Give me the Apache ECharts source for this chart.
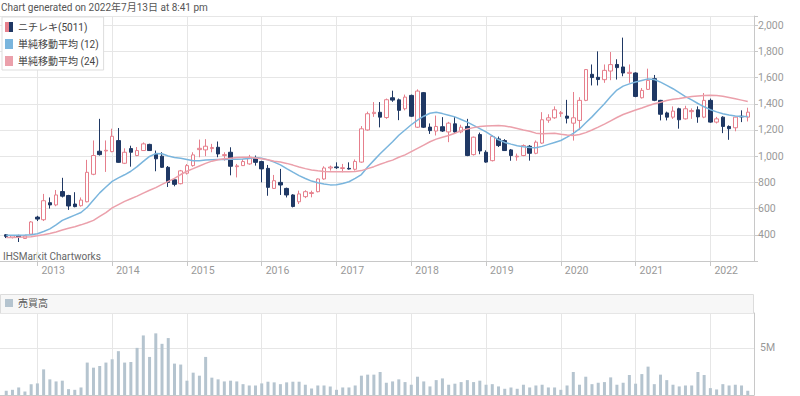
<!DOCTYPE html>
<html>
<head>
<meta charset="utf-8">
<script src="https://cdn.jsdelivr.net/npm/echarts@6/dist/echarts.min.js"></script>
<style>
  html, body { margin: 0; padding: 0; background: #fff; }
  #chart { width: 800px; height: 396px; }
</style>
</head>
<body>
<div id="chart"></div>
<script>
// monthly bars, 2012-08 .. 2022-07 (one row per year)
const opens = [
  400, 380, 395, 372, 405,
  535, 515, 645, 628, 730, 700, 635, 622, 652, 862, 1038, 1040,
  1035, 1119, 946, 1058, 1005, 1043, 1090, 1017, 1000, 915, 820, 790,
  870, 928, 1050, 1048, 1058, 1068, 1005, 1030, 920, 928, 941, 984,
  959, 907, 754, 800, 754, 704, 652, 691, 715, 729, 826, 910,
  918, 906, 907, 900, 955, 1200, 1325, 1335, 1295, 1446, 1430, 1362,
  1464, 1221, 1485, 1222, 1192, 1225, 1185, 1247, 1185, 1227, 1012, 1165,
  1030, 966, 1132, 1119, 1048, 995, 1005, 1076, 1022, 1100, 1275, 1293,
  1325, 1306, 1252, 1273, 1426, 1625, 1602, 1584, 1650, 1700, 1681, 1632,
  1635, 1446, 1510, 1592, 1426, 1330, 1298, 1362, 1285, 1340, 1354, 1298,
  1426, 1260, 1298, 1227, 1217, 1305, 1298
];
const highs = [
  405, 398, 400, 395, 505,
  545, 712, 685, 742, 835, 705, 725, 685, 972, 1120, 1285, 1120,
  1210, 1215, 1060, 1080, 1070, 1105, 1095, 1043, 1030, 925, 830, 895,
  940, 1030, 1127, 1130, 1094, 1112, 1030, 1068, 941, 980, 1010, 1005,
  965, 933, 857, 903, 760, 710, 737, 740, 737, 830, 923, 928,
  953, 941, 953, 975, 1230, 1340, 1413, 1413, 1440, 1500, 1440, 1470,
  1470, 1510, 1490, 1250, 1310, 1298, 1262, 1298, 1240, 1285, 1150, 1180,
  1045, 1160, 1150, 1130, 1055, 1020, 1090, 1085, 1120, 1336, 1320, 1380,
  1345, 1430, 1490, 1450, 1665, 1700, 1800, 1700, 1795, 1740, 1905, 1700,
  1640, 1520, 1668, 1620, 1430, 1340, 1380, 1370, 1385, 1365, 1380, 1482,
  1440, 1300, 1305, 1235, 1300, 1350, 1370
];
const lows = [
  375, 372, 345, 370, 400,
  505, 505, 600, 618, 685, 590, 610, 615, 648, 855, 1005, 880,
  1030, 950, 940, 920, 1000, 1040, 1040, 885, 910, 765, 770, 785,
  860, 920, 992, 1000, 1030, 992, 966, 854, 838, 925, 935, 928,
  800, 698, 750, 704, 685, 609, 635, 680, 686, 724, 820, 890,
  903, 877, 898, 890, 950, 1195, 1300, 1220, 1285, 1415, 1275, 1350,
  1300, 1215, 1215, 1170, 1158, 1185, 1107, 1180, 1175, 1000, 1005, 1015,
  950, 960, 1070, 1040, 965, 965, 1000, 966, 1015, 1094, 1255, 1285,
  1300, 1250, 1119, 1200, 1420, 1540, 1540, 1560, 1580, 1585, 1610, 1560,
  1450, 1440, 1505, 1420, 1273, 1273, 1285, 1210, 1280, 1285, 1255, 1290,
  1255, 1250, 1176, 1125, 1190, 1260, 1265
];
const closes = [
  388, 392, 383, 392, 498,
  520, 660, 628, 704, 695, 620, 615, 665, 877, 1005, 1012, 1045,
  1152, 953, 1030, 1030, 1043, 1094, 1043, 980, 915, 800, 785, 888,
  928, 1010, 1060, 1076, 1066, 1017, 1012, 923, 926, 959, 992, 953,
  903, 762, 813, 780, 704, 616, 712, 729, 722, 826, 910, 917,
  912, 912, 902, 960, 1209, 1324, 1335, 1298, 1431, 1428, 1350, 1451,
  1305, 1497, 1221, 1195, 1227, 1192, 1252, 1185, 1221, 1005, 1145, 1040,
  955, 1150, 1081, 1043, 1005, 1000, 1081, 1022, 1107, 1278, 1293, 1354,
  1332, 1290, 1293, 1426, 1661, 1600, 1585, 1655, 1699, 1676, 1635, 1640,
  1456, 1502, 1579, 1426, 1320, 1298, 1344, 1278, 1362, 1348, 1300, 1426,
  1260, 1285, 1227, 1210, 1298, 1300, 1336
];
// 単純移動平均
const ma12 = [
  397, 397, 397, 398, 400,
  408, 425, 445, 475, 510, 530, 550, 570, 610, 665, 720, 765,
  808, 835, 858, 885, 920, 960, 998, 1020, 1018, 1002, 990, 984,
  975, 965, 966, 970, 973, 974, 975, 976, 977, 978, 982, 990,
  985, 972, 955, 934, 905, 878, 852, 830, 810, 797, 788, 781,
  782, 792, 805, 830, 860, 918, 968, 1018, 1065, 1110, 1160, 1200,
  1240, 1275, 1305, 1328, 1335, 1325, 1313, 1300, 1280, 1260, 1235, 1210,
  1185, 1155, 1125, 1105, 1092, 1080, 1072, 1066, 1065, 1075, 1090, 1105,
  1120, 1145, 1175, 1208, 1255, 1300, 1350, 1400, 1455, 1505, 1535, 1552,
  1566, 1578, 1590, 1585, 1565, 1540, 1515, 1485, 1455, 1430, 1402, 1377,
  1355, 1338, 1324, 1315, 1307, 1303, 1303
];
const ma24 = [
  379, 380, 382, 384, 386,
  392, 400, 410, 422, 436, 450, 462, 476, 492, 510, 540, 570,
  605, 630, 655, 675, 695, 718, 740, 760, 785, 808, 830, 860,
  885, 905, 925, 945, 962, 972, 980, 985, 990, 992, 991, 986,
  980, 972, 962, 955, 945, 932, 918, 905, 895, 888, 884, 882,
  882, 882, 882, 883, 890, 905, 920, 938, 955, 970, 992, 1010,
  1035, 1060, 1085, 1110, 1130, 1145, 1158, 1175, 1195, 1208, 1218, 1226,
  1230, 1233, 1234, 1230, 1222, 1212, 1200, 1190, 1176, 1172, 1174, 1175,
  1168, 1162, 1158, 1165, 1180, 1200, 1222, 1245, 1270, 1295, 1318, 1335,
  1352, 1368, 1385, 1400, 1412, 1425, 1435, 1440, 1448, 1455, 1460, 1464,
  1465, 1464, 1458, 1448, 1438, 1428, 1418
];
// 売買高 in millions of shares
const volumeM = [
  0.45, 0.55, 0.8, 0.37, 1.15,
  1.23, 2.72, 1.66, 1.44, 1.52, 0.62, 0.55, 0.8, 3.44, 2.9, 3.08, 3.44,
  3.79, 4.65, 3.44, 3.5, 5.0, 6.32, 4.04, 6.54, 5.43, 6.04, 3.33, 3.23,
  1.52, 2.37, 2.05, 4.04, 1.84, 1.66, 1.44, 1.52, 1.44, 1.15, 1.01, 1.01,
  1.23, 1.41, 1.34, 1.15, 1.34, 1.41, 1.41, 1.09, 0.69, 1.01, 1.01, 0.9,
  0.55, 0.8, 0.8, 1.01, 2.05, 2.16, 2.16, 2.44, 1.3, 1.44, 1.66, 1.37,
  1.09, 1.94, 1.44, 0.91, 1.58, 1.76, 1.09, 1.2, 1.37, 1.58, 1.37, 1.52,
  1.09, 1.15, 0.91, 0.66, 0.8, 0.66, 1.09, 0.8, 1.01, 1.09, 0.8, 0.8,
  0.55, 1.01, 2.44, 1.09, 1.94, 1.15, 1.3, 1.37, 1.87, 1.09, 1.3, 2.12,
  1.2, 2.22, 3.01, 1.15, 2.16, 1.58, 1.09, 0.91, 1.01, 1.01, 2.44, 2.12,
  0.73, 0.59, 1.15, 1.01, 1.09, 1.01, 0.45
];
const priceTicks = [400, 600, 800, 1000, 1200, 1400, 1600, 1800, 2000];

// category months 2012-07 .. 2022-08 (one empty month padded at each end)
const months = [];
for (let y = 2012; y <= 2022; y++) {
  for (let m = 1; m <= 12; m++) {
    if (y === 2012 && m < 7) continue;
    if (y === 2022 && m > 8) break;
    months.push(y + '-' + (m < 10 ? '0' + m : m));
  }
}
const pad = (arr) => ['-'].concat(arr, ['-']);
const candles = ['-'].concat(opens.map((o, i) => [o, closes[i], lows[i], highs[i]]), ['-']);

const UP = '#e67f8c', DOWN = '#1f3864';
const isJan = (idx) => months[idx] && months[idx].slice(5) === '01';
const fmt = (v) => String(v).replace(/\B(?=(\d{3})+(?!\d))/g, ',');
const FONT = 'Roboto, "Noto Sans CJK JP", sans-serif';

const candleIcon = 'image://data:image/svg+xml;charset=utf-8,' + encodeURIComponent(
  "<svg xmlns='http://www.w3.org/2000/svg' width='8' height='10'>" +
  "<rect x='0' y='0' width='4' height='10' fill='" + UP + "'/>" +
  "<rect x='4' y='0' width='4' height='10' fill='" + DOWN + "'/></svg>");

const chart = echarts.init(document.getElementById('chart'), null, { renderer: 'svg' });

chart.setOption({
  animation: false,
  textStyle: { fontFamily: FONT },
  title: {
    text: 'Chart generated on 2022年7月13日 at 8:41 pm',
    left: 1, top: 2, padding: 0,
    textStyle: { fontSize: 10, fontWeight: 'normal', color: '#555', fontFamily: FONT }
  },
  legend: [
    {
      orient: 'vertical', left: 2, top: 17,
      padding: [5, 5, 4, 3], itemGap: 7, itemWidth: 8, itemHeight: 10,
      backgroundColor: '#fff', borderColor: '#ddd', borderWidth: 1,
      selectedMode: false,
      textStyle: { fontSize: 10, color: '#444', fontFamily: FONT },
      data: [
        { name: 'ニチレキ(5011)', icon: candleIcon },
        { name: '単純移動平均 (12)', icon: 'rect' },
        { name: '単純移動平均 (24)', icon: 'rect' }
      ]
    },
    {
      left: 5, top: 298, padding: 0, itemWidth: 8, itemHeight: 8,
      selectedMode: false,
      textStyle: { fontSize: 10, color: '#555', fontFamily: FONT },
      data: [{ name: '売買高', icon: 'rect' }]
    }
  ],
  graphic: [
    {
      type: 'rect', left: 0, top: 294, silent: true, z: -10,
      shape: { width: 753, height: 19 },
      style: { fill: '#f7f7f7', stroke: '#dcdcdc', lineWidth: 1 }
    },
    {
      type: 'text', left: 3, top: 251, silent: true,
      style: { text: 'IHSMarkit Chartworks', fill: '#666', font: '10px ' + FONT }
    }
  ],
  grid: [
    { left: 0, right: 46, top: 16, height: 245 },
    { left: 0, right: 46, top: 313, height: 82 }
  ],
  xAxis: [
    {
      type: 'category', gridIndex: 0, data: months, boundaryGap: false,
      axisLine: { lineStyle: { color: '#c8c8c8' } },
      axisTick: { interval: isJan, length: 5, lineStyle: { color: '#c8c8c8' } },
      splitLine: { show: true, interval: isJan, lineStyle: { color: '#e6e6e6' } },
      axisLabel: {
        interval: isJan, align: 'left', margin: 4, padding: [0, 0, 0, 4],
        color: '#999', fontSize: 10.5, fontFamily: FONT,
        formatter: (v) => v.slice(0, 4)
      }
    },
    {
      type: 'category', gridIndex: 1, data: months, boundaryGap: false,
      axisLine: { lineStyle: { color: '#c8c8c8' } },
      axisTick: { show: false },
      axisLabel: { show: false },
      splitLine: { show: true, interval: isJan, lineStyle: { color: '#e6e6e6' } }
    }
  ],
  yAxis: [
    {
      type: 'value', gridIndex: 0, position: 'right',
      min: 200, max: 2070, interval: 200,
      axisLine: { show: true, lineStyle: { color: '#c8c8c8' } },
      axisTick: { show: true, length: 4, lineStyle: { color: '#c8c8c8' } },
      splitLine: { lineStyle: { color: '#e6e6e6' } },
      axisLabel: {
        margin: 4, color: '#999', fontSize: 10.5, fontFamily: FONT,
        formatter: (v) => priceTicks.includes(v) ? fmt(v) : ''
      }
    },
    {
      type: 'value', gridIndex: 1, position: 'right',
      min: 0, max: 8.7, interval: 5,
      axisLine: { show: true, lineStyle: { color: '#c8c8c8' } },
      axisTick: { show: false },
      splitLine: { lineStyle: { color: '#e6e6e6' } },
      axisLabel: {
        margin: 6, color: '#999', fontSize: 10.5, fontFamily: FONT,
        formatter: (v) => v === 5 ? '5M' : ''
      }
    }
  ],
  series: [
    {
      name: 'ニチレキ(5011)', type: 'candlestick',
      xAxisIndex: 0, yAxisIndex: 0,
      data: candles, barWidth: 4,
      itemStyle: {
        color: '#fff', color0: DOWN,
        borderColor: UP, borderColor0: DOWN, borderColorDoji: UP, borderWidth: 1
      }
    },
    {
      name: '単純移動平均 (12)', type: 'line',
      xAxisIndex: 0, yAxisIndex: 0, data: pad(ma12),
      symbol: 'none', color: '#7ab5dd',
      lineStyle: { width: 1.5, color: '#7ab5dd' }
    },
    {
      name: '単純移動平均 (24)', type: 'line',
      xAxisIndex: 0, yAxisIndex: 0, data: pad(ma24),
      symbol: 'none', color: '#eba0ab',
      lineStyle: { width: 1.5, color: '#eba0ab' }
    },
    {
      name: '売買高', type: 'bar',
      xAxisIndex: 1, yAxisIndex: 1, data: pad(volumeM),
      barWidth: 3, color: '#b5c4cf',
      itemStyle: { color: '#b5c4cf' }
    }
  ]
});
</script>
</body>
</html>
